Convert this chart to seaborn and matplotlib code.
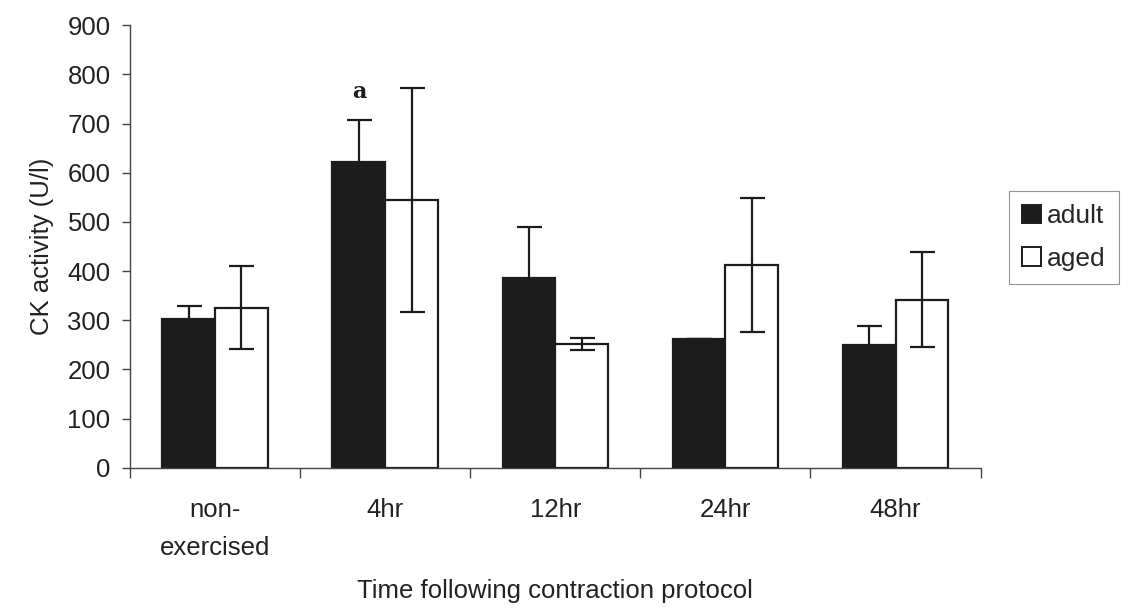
import numpy as np
import pandas as pd
import matplotlib
matplotlib.use("Agg")
import matplotlib.pyplot as plt
import seaborn as sns

# values
timepoints = ["non-\nexercised", "4hr", "12hr", "24hr", "48hr"]
groups = ["adult", "aged"]
adult_mean = [302, 622, 385, 262, 250]
adult_err = [28, 85, 105, 0, 38]
aged_mean = [326, 545, 252, 412, 342]
aged_err = [84, 228, 13, 136, 96]
y_ticks = [0, 100, 200, 300, 400, 500, 600, 700, 800, 900]

df = pd.DataFrame({
    "time": timepoints * 2,
    "group": ["adult"] * len(timepoints) + ["aged"] * len(timepoints),
    "ck": adult_mean + aged_mean,
})
errs = {"adult": adult_err, "aged": aged_err}

sns.set_theme(style="white")
plt.rcParams["font.family"] = ["Liberation Sans", "DejaVu Sans"]

ink = "#1c1c1c"
txt = "#222222"
fs = 18.5

fig = plt.figure(figsize=(11.31, 6.14), dpi=100)
ax = fig.add_axes([0.115, 0.238, 0.752, 0.721])

sns.barplot(data=df, x="time", y="ck", hue="group", order=timepoints,
            hue_order=groups, palette={"adult": ink, "aged": "white"},
            width=0.62, gap=0, saturation=1, errorbar=None, ax=ax, legend=True)

for cont, g in zip(ax.containers, groups):
    xs = []
    ys = []
    for bar in cont:
        bar.set_edgecolor(ink)
        bar.set_linewidth(1.6)
        xs.append(bar.get_x() + bar.get_width() / 2)
        ys.append(bar.get_height())
    ax.errorbar(xs, ys, yerr=errs[g], fmt="none", ecolor=ink,
                elinewidth=1.6, capsize=9, capthick=1.6, zorder=5)

# significance marker above the 4hr adult bar
b = ax.containers[0][1]
ax.text(b.get_x() + b.get_width() / 2, adult_mean[1] + adult_err[1] + 35, "a",
        ha="center", va="bottom", fontsize=16, family="DejaVu Serif",
        weight="bold", color=ink)

ax.set_ylim(0, 900)
ax.set_xlim(-0.5, len(timepoints) - 0.5)
ax.set_yticks(y_ticks)
ax.set_yticklabels([str(v) for v in y_ticks], fontsize=fs, color=txt)
ax.set_xticks(range(len(timepoints)))
ax.set_xticklabels(timepoints, fontsize=fs, color=txt, linespacing=1.7)
ax.set_xticks(np.arange(-0.5, len(timepoints), 1.0), minor=True)
ax.tick_params(axis="x", which="major", length=0, pad=22)
ax.tick_params(axis="x", which="minor", length=7, width=1, color="#444444",
               direction="out", bottom=True)
ax.tick_params(axis="y", length=6, width=1, color="#444444", direction="out",
               left=True, pad=8)

ax.set_ylabel("CK activity (U/l)", fontsize=fs, color=txt, labelpad=10)
ax.set_xlabel("Time following contraction protocol", fontsize=fs,
              color=txt, labelpad=14)

for side in ["top", "right"]:
    ax.spines[side].set_visible(False)
for side in ["left", "bottom"]:
    ax.spines[side].set_color("#444444")
    ax.spines[side].set_linewidth(1.0)

handles, labels = ax.get_legend_handles_labels()
leg = ax.legend(handles, labels, loc="upper left", bbox_to_anchor=(0.892, 0.689),
                bbox_transform=fig.transFigure, fontsize=fs + 0.5, frameon=True,
                fancybox=False, edgecolor="#777777", handlelength=0.7,
                handleheight=0.7, handletextpad=0.25, borderpad=0.5,
                labelspacing=0.7, borderaxespad=0)
leg.get_frame().set_linewidth(0.8)
for h in leg.get_patches():
    h.set_edgecolor(ink)
    h.set_linewidth(1.4)

fig.savefig("out.png", dpi=100, facecolor="white")
